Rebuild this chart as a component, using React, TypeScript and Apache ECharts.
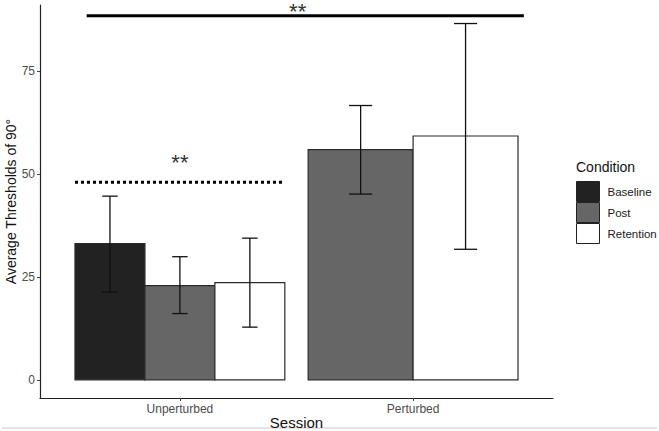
import React, { useEffect, useRef } from "react";
import * as echarts from "echarts";

// Sessions on the x axis and the three conditions that are dodged within them
const sessions = ["Unperturbed", "Perturbed"];
const conditions = ["Baseline", "Post", "Retention"];
const conditionFill = ["#222222", "#666666", "#ffffff"];

// Mean thresholds (degrees) per condition, one entry per session; null = not measured
const baselineMean: (number | null)[] = [33.1, null];
const postMean: (number | null)[] = [22.9, 55.9];
const retentionMean: (number | null)[] = [23.6, 59.2];

// Error bar limits
const baselineLow: (number | null)[] = [21.3, null];
const baselineHigh: (number | null)[] = [44.6, null];
const postLow: (number | null)[] = [16.1, 45.1];
const postHigh: (number | null)[] = [29.9, 66.6];
const retentionLow: (number | null)[] = [12.8, 31.7];
const retentionHigh: (number | null)[] = [34.4, 86.5];

// Y axis ticks
const yTicks = [0, 25, 50, 75];

// Significance brackets: span on the session scale, level, and marker text
const sigLabels = ["**", "**"];
const sigStart = [-0.4, -0.45];
const sigEnd = [1.475, 0.45];
const sigLevel = [88.4, 48];
const sigTextX = [0.505, 0.0];
const sigTextY = [90.5, 53.9];
const sigDashed = [false, true];

const FONT = "'Liberation Sans', Arial, Helvetica, sans-serif";

export default function App() {
  const ref = useRef<HTMLDivElement>(null);

  useEffect(() => {
    if (!ref.current) return;
    const chart = echarts.init(ref.current, null, { renderer: "svg" });

    const means = [baselineMean, postMean, retentionMean];
    const lows = [baselineLow, postLow, retentionLow];
    const highs = [baselineHigh, postHigh, retentionHigh];

    // Dodge bars: the 0.9-wide slot of each session is shared by the conditions present there
    const dodge = sessions.map((_, s) => {
      const present = conditions
        .map((_, c) => c)
        .filter((c) => means[c][s] !== null);
      const w = 0.9 / present.length;
      const out: Record<number, { center: number; width: number }> = {};
      present.forEach((c, i) => {
        out[c] = { center: s - 0.45 + w * (i + 0.5), width: w };
      });
      return out;
    });

    const barSeries = conditions.map((name, c) => {
      const data: number[][] = [];
      sessions.forEach((_, s) => {
        const m = means[c][s];
        if (m === null) return;
        const d = dodge[s][c];
        data.push([d.center, m, lows[c][s] as number, highs[c][s] as number, d.width]);
      });
      return {
        type: "custom",
        name,
        data,
        itemStyle: { color: conditionFill[c], borderColor: "#222", borderWidth: 1 },
        encode: { x: 0, y: 1 },
        renderItem: (_params: any, api: any) => {
          const cx = api.value(0);
          const m = api.value(1);
          const lo = api.value(2);
          const hi = api.value(3);
          const w = api.value(4);
          const p0 = api.coord([cx - w / 2, 0]);
          const p1 = api.coord([cx + w / 2, m]);
          const pc = api.coord([cx, lo]);
          const ph = api.coord([cx, hi]);
          const half = (p1[0] - p0[0]) * 0.11;
          const err = { stroke: "#111", lineWidth: 1.3 };
          return {
            type: "group",
            children: [
              {
                type: "rect",
                shape: { x: p0[0], y: p1[1], width: p1[0] - p0[0], height: p0[1] - p1[1] },
                style: { fill: conditionFill[c], stroke: "#2a2a2a", lineWidth: 1.2 },
              },
              { type: "line", shape: { x1: pc[0], y1: pc[1], x2: ph[0], y2: ph[1] }, style: err },
              { type: "line", shape: { x1: ph[0] - half, y1: ph[1], x2: ph[0] + half, y2: ph[1] }, style: err },
              { type: "line", shape: { x1: pc[0] - half, y1: pc[1], x2: pc[0] + half, y2: pc[1] }, style: err },
            ],
          };
        },
      };
    });

    const sigData = sigLabels.map((_, i) => [sigStart[i], sigLevel[i], sigEnd[i], sigTextX[i], sigTextY[i], i]);
    const sigSeries = {
      type: "custom",
      name: "significance",
      data: sigData,
      clip: false,
      silent: true,
      encode: { x: 0, y: 1 },
      renderItem: (_params: any, api: any) => {
        const i = api.value(5);
        const a = api.coord([api.value(0), api.value(1)]);
        const b = api.coord([api.value(2), api.value(1)]);
        const t = api.coord([api.value(3), api.value(4)]);
        const fs = 22;
        return {
          type: "group",
          children: [
            {
              type: "line",
              shape: { x1: a[0], y1: a[1], x2: b[0], y2: b[1] },
              style: {
                stroke: "#000",
                lineWidth: 3,
                lineDash: sigDashed[i] ? [3, 3] : null,
                lineCap: "butt",
              },
            },
            {
              type: "text",
              x: t[0],
              y: t[1] + fs * 0.2,
              style: {
                text: sigLabels[i],
                fontSize: fs,
                fontFamily: FONT,
                fill: "#333",
                align: "center",
                verticalAlign: "middle",
              },
            },
          ],
        };
      },
    };

    chart.setOption({
      animation: false,
      backgroundColor: "#ffffff",
      title: {
        text: "Condition",
        left: 576,
        top: 160,
        textStyle: { fontSize: 14, fontWeight: "normal", color: "#111", fontFamily: FONT },
        padding: 0,
      },
      legend: {
        orient: "vertical",
        left: 576,
        top: 181,
        padding: 0,
        itemWidth: 23,
        itemHeight: 20,
        itemGap: 0,
        icon: "rect",
        selectedMode: false,
        textStyle: { fontSize: 11.5, color: "#1a1a1a", fontFamily: FONT, padding: [0, 0, 0, 3] },
        data: conditions.map((name, c) => ({
          name,
          itemStyle: { color: conditionFill[c], borderColor: "#222", borderWidth: 1 },
        })),
      },
      grid: { left: 40, right: 106, top: 5, bottom: 33, containLabel: false, outerBoundsMode: "none" },
      xAxis: {
        type: "value",
        min: -0.6,
        max: 1.6,
        name: "Session",
        nameLocation: "middle",
        nameGap: 17,
        nameMoveOverlap: false,
        nameTextStyle: { fontSize: 15, color: "#111", fontFamily: FONT },
        axisLine: { show: true, onZero: false, lineStyle: { color: "#222", width: 1.2 } },
        axisTick: { show: true, length: 3, customValues: [0, 1], lineStyle: { color: "#444" } },
        axisLabel: {
          customValues: [0, 1],
          formatter: (v: number) => sessions[Math.round(v)] ?? "",
          fontSize: 12,
          color: "#4d4d4d",
          fontFamily: FONT,
          margin: 5,
        },
        splitLine: { show: false },
      },
      yAxis: {
        type: "value",
        min: -4.4,
        max: 91,
        name: "Average Thresholds of 90°",
        nameLocation: "middle",
        nameRotate: 90,
        nameGap: 22,
        nameMoveOverlap: false,
        nameTextStyle: { fontSize: 14, color: "#111", fontFamily: FONT },
        axisLine: { show: true, onZero: false, lineStyle: { color: "#222", width: 1.2 } },
        axisTick: { show: true, length: 3, customValues: yTicks, lineStyle: { color: "#444" } },
        axisLabel: {
          customValues: yTicks,
          fontSize: 12,
          color: "#4d4d4d",
          fontFamily: FONT,
          margin: 5,
        },
        splitLine: { show: false },
      },
      graphic: [
        {
          type: "line",
          shape: { x1: 2, y1: 428, x2: 657, y2: 428 },
          style: { stroke: "#c8c8c8", lineWidth: 1 },
          silent: true,
        },
      ],
      series: [...barSeries, sigSeries],
    });

    return () => chart.dispose();
  }, []);

  return (
    <div
      ref={ref}
      style={{ position: "fixed", left: 0, top: 0, width: 659, height: 431, background: "#fff" }}
    />
  );
}
